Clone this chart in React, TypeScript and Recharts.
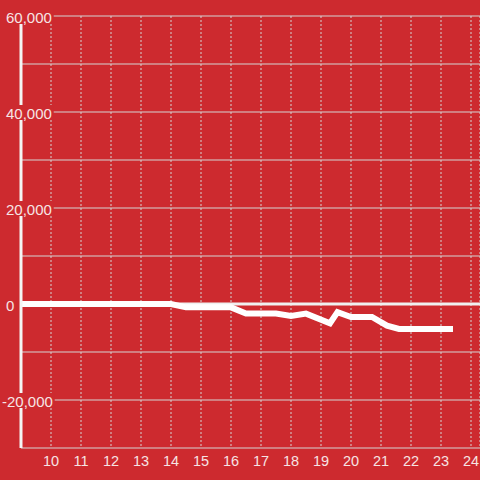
import React from 'react'
import {
  CartesianGrid,
  Line,
  LineChart,
  ReferenceLine,
  XAxis,
  YAxis,
} from "recharts";

const hours = [9, 14, 14.5, 16, 16.5, 17.5, 18, 18.5, 19.3, 19.55, 20, 20.7, 21.2, 21.6, 23.4]
const balance = [0, 0, -700, -700, -2000, -2000, -2500, -2000, -4000, -1700, -2700, -2700, -4500, -5200, -5200]
const xTicks = [10, 11, 12, 13, 14, 15, 16, 17, 18, 19, 20, 21, 22, 23, 24]
const yTicks = [-30000, -20000, -10000, 0, 10000, 20000, 30000, 40000, 50000, 60000]

const data = hours.map((h, i) => ({ hour: h, value: balance[i] }))

const BG = '#cd2a2f'
const GRID = '#d4d4d4'
const LABEL = '#f6e4e4'

const charWidth = (c: string) => (c === ',' ? 4.2 : c === '-' ? 5 : 8.3)

function YTick (props: any) {
  const { y, payload } = props
  const v = payload.value as number
  if (v % 20000 !== 0) return <g />
  const label = v.toLocaleString('en-US')
  const start = v < 0 ? 2 : 6
  const w = label.split('').reduce((s, c) => s + charWidth(c), 0)
  return (
    <g>
      <rect x={0} y={y - 7} width={start + w + 2} height={15} fill={BG} />
      <text
        x={start}
        y={y + 6.5}
        textAnchor="start"
        fill={LABEL}
        fontSize={15}
        fontFamily="'Liberation Sans', Arial, sans-serif"
      >
        {label}
      </text>
    </g>
  )
}

export default function App () {
  return (
    <div style={{ position: 'absolute', left: 0, top: 0, width: 480, height: 480, background: BG }}>
      <LineChart
        width={480}
        height={480}
        data={data}
        margin={{ top: 16, right: 0, bottom: 0, left: 0 }}
      >
        <CartesianGrid vertical={false} stroke={GRID} />
        <CartesianGrid horizontal={false} stroke={GRID} strokeDasharray="2 2" />
        <XAxis
          type="number"
          dataKey="hour"
          domain={[9, 24.3]}
          ticks={xTicks}
          allowDataOverflow
          height={32}
          axisLine={false}
          tickLine={false}
          tick={{ fill: LABEL, fontSize: 14.5, fontFamily: "'Liberation Sans', Arial, sans-serif" }}
        />
        <YAxis
          type="number"
          domain={[-30000, 60000]}
          ticks={yTicks}
          width={21}
          axisLine={{ stroke: '#f4f4f4', strokeWidth: 3 }}
          tickLine={false}
          tick={<YTick />}
          interval={0}
        />
        <ReferenceLine y={0} stroke="#f0f0f0" strokeWidth={3} />
        <Line
          type="linear"
          dataKey="value"
          stroke="#ffffff"
          strokeWidth={6}
          dot={false}
          isAnimationActive={false}
        />
      </LineChart>
    </div>
  )
}
